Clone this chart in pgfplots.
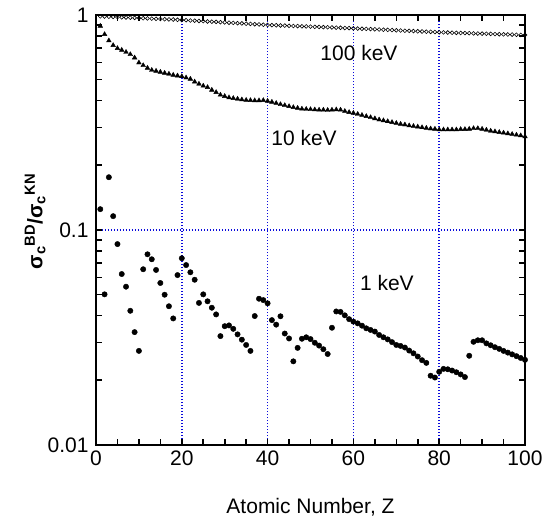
\documentclass[border=0pt]{standalone}
\usepackage{fontspec}
\setmainfont{Liberation Sans}
\usepackage{pgfplots}
\pgfplotsset{compat=1.18}
\usepackage{pgfplotstable}

\pgfplotstableread{
Z v
1 0.986
2 0.984
3 0.982
4 0.980
5 0.978
6 0.976
7 0.974
8 0.972
9 0.970
10 0.968
11 0.966
12 0.964
13 0.962
14 0.960
15 0.958
16 0.956
17 0.954
18 0.953
19 0.950
20 0.948
21 0.946
22 0.943
23 0.941
24 0.938
25 0.936
26 0.933
27 0.931
28 0.929
29 0.926
30 0.924
31 0.921
32 0.919
33 0.916
34 0.914
35 0.911
36 0.909
37 0.906
38 0.904
39 0.901
40 0.899
41 0.897
42 0.896
43 0.894
44 0.893
45 0.891
46 0.889
47 0.888
48 0.886
49 0.885
50 0.883
51 0.881
52 0.880
53 0.878
54 0.877
55 0.875
56 0.873
57 0.872
58 0.870
59 0.869
60 0.867
61 0.865
62 0.863
63 0.862
64 0.860
65 0.858
66 0.856
67 0.854
68 0.853
69 0.851
70 0.849
71 0.847
72 0.845
73 0.844
74 0.842
75 0.840
76 0.838
77 0.836
78 0.835
79 0.833
80 0.831
81 0.830
82 0.829
83 0.827
84 0.826
85 0.825
86 0.824
87 0.823
88 0.821
89 0.820
90 0.819
91 0.818
92 0.817
93 0.815
94 0.814
95 0.813
96 0.812
97 0.811
98 0.809
99 0.808
100 0.807
}\dataHundred

\pgfplotstableread{
Z v
1 0.889
2 0.813
3 0.760
4 0.723
5 0.700
6 0.687
7 0.672
8 0.656
9 0.633
10 0.600
11 0.583
12 0.567
13 0.554
14 0.549
15 0.543
16 0.537
17 0.532
18 0.526
19 0.522
20 0.518
21 0.511
22 0.504
23 0.489
24 0.478
25 0.468
26 0.461
27 0.448
28 0.437
29 0.425
30 0.419
31 0.413
32 0.410
33 0.407
34 0.404
35 0.402
36 0.401
37 0.400
38 0.400
39 0.401
40 0.398
41 0.394
42 0.389
43 0.384
44 0.380
45 0.376
46 0.372
47 0.369
48 0.366
49 0.365
50 0.364
51 0.363
52 0.362
53 0.362
54 0.361
55 0.362
56 0.363
57 0.362
58 0.357
59 0.353
60 0.350
61 0.346
62 0.342
63 0.338
64 0.334
65 0.330
66 0.326
67 0.323
68 0.320
69 0.317
70 0.314
71 0.311
72 0.309
73 0.306
74 0.304
75 0.302
76 0.300
77 0.298
78 0.296
79 0.295
80 0.293
81 0.293
82 0.293
83 0.293
84 0.293
85 0.294
86 0.294
87 0.295
88 0.297
89 0.297
90 0.295
91 0.292
92 0.289
93 0.287
94 0.285
95 0.283
96 0.281
97 0.279
98 0.277
99 0.275
100 0.272
}\dataTen

\pgfplotstableread{
Z v
1 0.125
2 0.0502
3 0.176
4 0.116
5 0.086
6 0.0624
7 0.0545
8 0.0421
9 0.0335
10 0.0274
11 0.0657
12 0.0771
13 0.0731
14 0.0652
15 0.0567
16 0.0500
17 0.0442
18 0.0388
19 0.0617
20 0.0739
21 0.0687
22 0.0636
23 0.0587
24 0.0458
25 0.0502
26 0.0466
27 0.0435
28 0.0405
29 0.0321
30 0.0357
31 0.0360
32 0.0347
33 0.0327
34 0.0309
35 0.0292
36 0.0274
37 0.0398
38 0.0479
39 0.0472
40 0.0456
41 0.0381
42 0.0363
43 0.0397
44 0.0330
45 0.0313
46 0.0245
47 0.0283
48 0.0312
49 0.0317
50 0.0311
51 0.0299
52 0.0290
53 0.0279
54 0.0265
55 0.0351
56 0.0418
57 0.0416
58 0.0401
59 0.0385
60 0.0375
61 0.0368
62 0.0359
63 0.0349
64 0.0343
65 0.0337
66 0.0325
67 0.0317
68 0.0310
69 0.0301
70 0.0292
71 0.0289
72 0.0284
73 0.0275
74 0.0267
75 0.0258
76 0.0248
77 0.0241
78 0.0210
79 0.0206
80 0.0219
81 0.0226
82 0.0225
83 0.0222
84 0.0218
85 0.0213
86 0.0207
87 0.0260
88 0.0302
89 0.0307
90 0.0307
91 0.0297
92 0.0291
93 0.0285
94 0.0280
95 0.0274
96 0.0269
97 0.0264
98 0.0259
99 0.0254
100 0.0249
}\dataOne

\definecolor{gridblue}{RGB}{10,10,220}
\tikzset{gridln/.style={color=gridblue, line width=1.6bp, dash pattern=on 1.4bp off 1.6bp},
  tk/.style={black, line width=1.6bp}}

\begin{document}
\begin{tikzpicture}
\begin{axis}[
  scale only axis,
  width=429bp, height=430bp,
  xmin=0, xmax=100,
  ymode=log, ymin=0.01, ymax=1,
  xtick={0,20,40,60,80,100},
  ytick={0.01,0.1,1},
  yticklabels={0.01,0.1,1},
  major tick length=0pt, minor tick length=0pt,
  axis line style={line width=1.6bp},
  /pgf/number format/assume math mode=true,
  tick label style={font=\fontsize{21bp}{25bp}\selectfont},
  xticklabel style={yshift=-2bp},
  yticklabel style={xshift=-4bp},
  label style={font=\fontsize{21bp}{25bp}\selectfont},
  xlabel={Atomic Number, Z},
  xlabel style={at={(axis description cs:0.5,-0.144)}, anchor=center},
  ylabel={\textbf{σ\textsubscript{c}\textsuperscript{BD}/σ\textsubscript{c}\textsuperscript{KN}}},
  ylabel style={at={(axis description cs:-0.142,0.52)}, anchor=center},
  clip=false,
]
\coordinate (sw) at (rel axis cs:0,0);
\coordinate (ne) at (rel axis cs:1,1);
\draw[gridln] (axis cs:20,0.01) -- (axis cs:20,1);
\draw[gridln] (axis cs:40,0.01) -- (axis cs:40,1);
\draw[gridln] (axis cs:60,0.01) -- (axis cs:60,1);
\draw[gridln] (axis cs:80,0.01) -- (axis cs:80,1);
\draw[gridln] (axis cs:0,0.1) -- (axis cs:100,0.1);

\addplot[only marks, mark=o, mark size=1.9bp, black, mark options={line width=0.6bp}] table[x=Z,y=v] {\dataHundred};
\addplot[only marks, mark=triangle*, mark size=2.7bp, black] table[x=Z,y=v] {\dataTen};
\addplot[only marks, mark=*, mark size=2.7bp, black] table[x=Z,y=v] {\dataOne};

\node[font=\fontsize{21bp}{25bp}\selectfont] at (axis cs:61.3,0.666) {100 keV};
\node[font=\fontsize{21bp}{25bp}\selectfont] at (axis cs:48.5,0.268) {10 keV};
\node[font=\fontsize{21bp}{25bp}\selectfont] at (axis cs:67.8,0.0567) {1 keV};
\end{axis}
% tick marks drawn in plain TikZ, outside the axis
\foreach \i in {1,...,19} {
  \draw[tk] ([xshift=\i*21.45bp]sw) -- ++(0,6bp);
  \draw[tk] ([xshift=-\i*21.45bp]ne) -- ++(0,-6bp);
}
\foreach \h in {64.7,102.6,129.4,150.3,167.3,181.7,194.1,205.2,215,279.7,317.6,344.4,365.3,382.3,396.7,409.1,420.2} {
  \draw[tk] ([yshift=\h bp]sw) -- ++(6bp,0);
  \draw[tk] ([yshift=\h bp-430bp]ne) -- ++(-6bp,0);
}
\pgfresetboundingbox
\path (sw) ++(-96bp,-78bp) rectangle ++(546bp,523bp);
\end{tikzpicture}
\end{document}
